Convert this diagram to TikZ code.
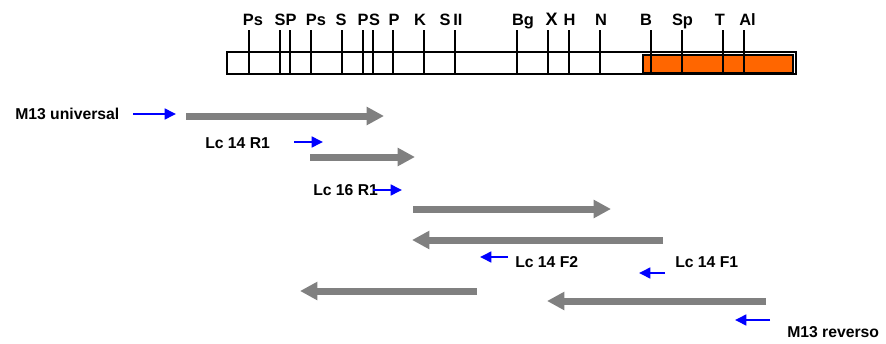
\documentclass[tikz,border=0pt]{standalone}
\usepackage{fontspec}
\setmainfont{Liberation Sans}
\usetikzlibrary{arrows.meta}
\definecolor{gread}{HTML}{808080}
\definecolor{pblue}{HTML}{0000FF}
\definecolor{orng}{HTML}{FF6600}
\begin{document}
\begin{tikzpicture}[x=0.75pt,y=-0.75pt,
  lab/.style={font=\bfseries\fontsize{11.8}{13}\selectfont, inner sep=0pt, anchor=west},
  site/.style={font=\bfseries\fontsize{12.3}{14}\selectfont, inner sep=0pt, anchor=base},
  tick/.style={line width=1.1pt},
  readarrow/.style={draw=gread, line width=5.25pt, -{Triangle[length=13pt,width=13pt]}},
  primer/.style={draw=pblue, line width=1.9pt, -{Triangle[length=8.5pt,width=8pt]}}]
\useasboundingbox (0,0) rectangle (886,343);
% map
\draw[line width=1.1pt] (227,52) rectangle (796,74);
\draw[fill=orng, line width=0.9pt] (643,55) rectangle (793,73);
\foreach \x in {249,280,290,311,342,363,373,393,424,455,517,548,569,600,651,682,723,744}
  \draw[tick] (\x,30) -- (\x,74);
\node[site] (l1) at (253,25) {Ps};
\node[site] (l2) at (280,25) {S};
\node[site] (l3) at (291,25) {P};
\node[site] (l4) at (316,25) {Ps};
\node[site] (l5) at (341,25) {S};
\node[site] (l6) at (363,25) {P};
\node[site] (l7) at (374.5,25) {S};
\node[site] (l8) at (394,25) {P};
\node[site] (l9) at (420,25) {K};
\node[site] (l10) at (451,25) {S\,II};
\node[site] (l11) at (523,25) {Bg};
\node[site,font=\bfseries\fontsize{13.5}{14}\selectfont] (l12) at (551.5,25) {X};
\node[site] (l13) at (569.5,25) {H};
\node[site] (l14) at (601,25) {N};
\node[site] (l15) at (646,25) {B};
\node[site] (l16) at (682.5,25) {Sp};
\node[site] (l17) at (720,25) {T};
\node[site] (l18) at (747.5,25) {Al};
% labels
\node[lab] (m13u) at (15,114) {M13 universal};
\node[lab] (r14) at (205,143) {Lc 14 R1};
\node[lab] (r16) at (313,190) {Lc 16 R1};
\node[lab] (f2) at (515,262) {Lc 14 F2};
\node[lab] (f1) at (675,262) {Lc 14 F1};
\node[lab] (m13r) at (787,332) {M13 reverso};
% reads
\draw[readarrow] (186,116) -- (384,116);
\draw[readarrow] (310,157) -- (415,157);
\draw[readarrow] (413,209) -- (611,209);
\draw[readarrow] (663,240) -- (412,240);
\draw[readarrow] (477,291) -- (300,291);
\draw[readarrow] (766,301) -- (547,301);
% primers
\draw[primer] (133,114) -- (176,114);
\draw[primer] (294,142) -- (323,142);
\draw[primer] (373,190) -- (402,190);
\draw[primer] (508,257) -- (480,257);
\draw[primer] (665,273) -- (639,273);
\draw[primer] (770,320) -- (735,320);
\end{tikzpicture}
\end{document}
